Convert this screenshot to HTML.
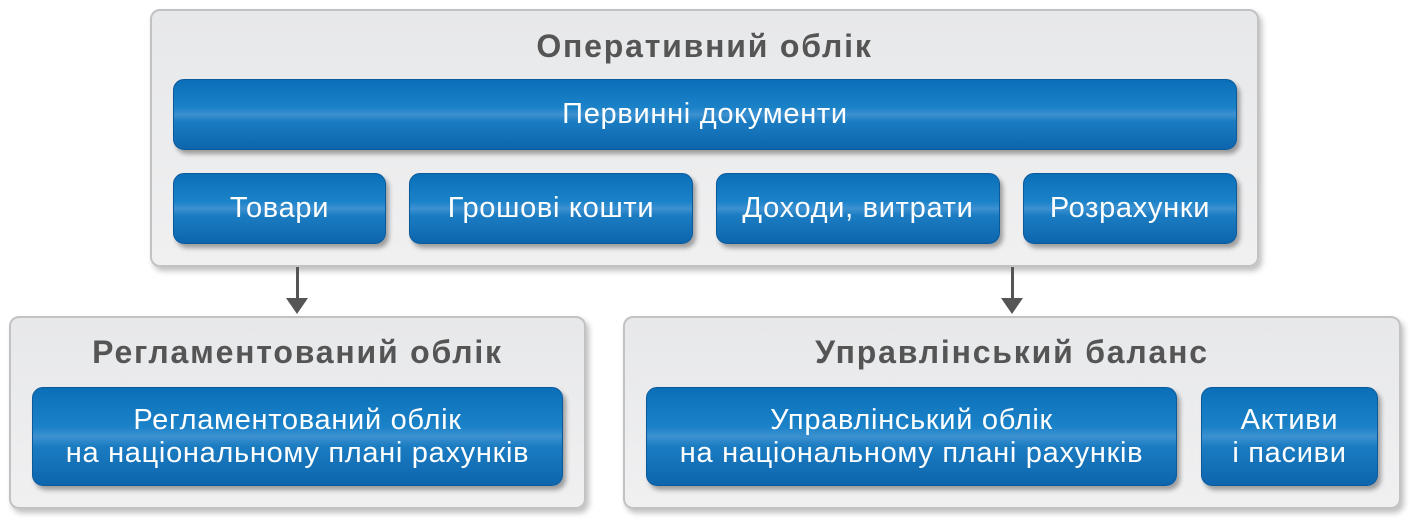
<!DOCTYPE html>
<html><head><meta charset="utf-8"><style>
body{margin:0;width:1421px;height:529px;background:#fff;position:relative;font-family:"Liberation Sans","DejaVu Sans",sans-serif;overflow:hidden}
.g{position:absolute;box-sizing:border-box;border:2px solid #c2c2c4;border-radius:10px;background:linear-gradient(#e7e8ea,#f0f0f1);box-shadow:3px 4px 6px rgba(0,0,0,.25)}
.t{position:absolute;left:0;right:0;text-align:center;font-weight:bold;font-size:32px;letter-spacing:1.8px;color:#555}
.b{position:absolute;box-sizing:border-box;border:1.5px solid #0b5a9c;border-radius:11px;background:linear-gradient(#0a6fb8 0%,#1b82c8 40%,#3d91d0 50%,#1b7cc2 60%,#0d65ad 100%);box-shadow:3px 4px 5px rgba(0,0,0,.35);color:#fff;font-size:29px;letter-spacing:0.7px;display:flex;align-items:center;justify-content:center;text-align:center;line-height:33px}
.a{position:absolute;width:3px;background:#555}
.h{position:absolute;width:0;height:0;border-left:11px solid transparent;border-right:11px solid transparent;border-top:16px solid #555}
</style></head><body>
<div class="g" style="left:150px;top:9px;width:1109px;height:258px"><div class="t" style="top:17px">Оперативний облік</div></div>
<div class="b" style="left:173px;top:79px;width:1064px;height:71px">Первинні документи</div>
<div class="b" style="left:173px;top:173px;width:213px;height:71px">Товари</div>
<div class="b" style="left:409px;top:173px;width:284px;height:71px">Грошові кошти</div>
<div class="b" style="left:716px;top:173px;width:284px;height:71px">Доходи, витрати</div>
<div class="b" style="left:1023px;top:173px;width:214px;height:71px">Розрахунки</div>
<div class="a" style="left:296px;top:267px;height:32px"></div><div class="h" style="left:286px;top:298px"></div>
<div class="a" style="left:1011px;top:267px;height:32px"></div><div class="h" style="left:1001px;top:298px"></div>
<div class="g" style="left:9px;top:316px;width:577px;height:193px"><div class="t" style="top:16px">Регламентований облік</div></div>
<div class="b" style="left:32px;top:387px;width:531px;height:99px">Регламентований облік<br>на національному плані рахунків</div>
<div class="g" style="left:623px;top:316px;width:778px;height:193px"><div class="t" style="top:16px">Управлінський баланс</div></div>
<div class="b" style="left:646px;top:387px;width:531px;height:99px">Управлінський облік<br>на національному плані рахунків</div>
<div class="b" style="left:1201px;top:387px;width:177px;height:99px">Активи<br>і пасиви</div>
</body></html>
